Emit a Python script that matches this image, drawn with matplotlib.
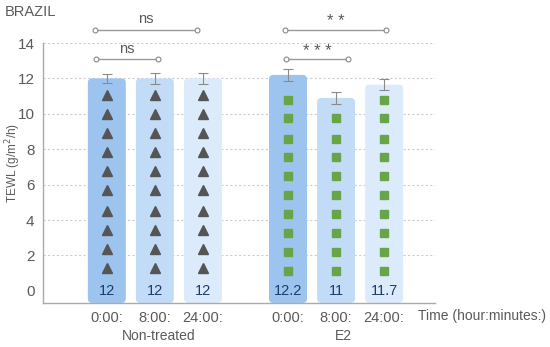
import matplotlib
matplotlib.use("Agg")
import matplotlib.pyplot as plt
from matplotlib.patches import FancyBboxPatch

plt.rcParams['font.family'] = ['Liberation Sans', 'DejaVu Sans']

# ---- data ----
tick_labels = ["0:00:", "8:00:", "24:00:", "0:00:", "8:00:", "24:00:"]
groups = ["Non-treated", "E2"]
values = [12.0, 12.0, 12.0, 12.2, 10.9, 11.65]
value_labels = ["12", "12", "12", "12.2", "11", "11.7"]
errors = [0.25, 0.33, 0.33, 0.33, 0.33, 0.33]
positions = [0, 1, 2, 3.77, 4.77, 5.77]
bar_colors = ["#9cc4ef", "#c2dcf8", "#dcebfc", "#9cc4ef", "#c2dcf8", "#dcebfc"]
tri_y = [1.3, 2.37, 3.44, 4.5, 5.7, 6.76, 7.83, 8.9, 9.97, 11.04]
sq_y = [1.13, 2.2, 3.27, 4.34, 5.4, 6.48, 7.55, 8.6, 9.75, 10.8]
yticks = [0, 2, 4, 6, 8, 10, 12, 14]
# significance brackets: (x1, x2, y, label)
brackets = [(-0.25, 1.875, 14.76, "ns"), (-0.23, 1.06, 13.07, "ns"),
            (3.71, 5.81, 14.76, "**"), (3.73, 5.02, 13.07, "***")]

TXT = "#5a5a5a"
fig = plt.figure(figsize=(5.5, 3.47), dpi=100)
ax = fig.add_axes([0.078, 0.127, 0.713, 0.749])

ymin = -0.68
ax.set_xlim(-1.33, 6.83)
ax.set_ylim(ymin, 14)

ax.hlines([t for t in yticks if t > 0], -1.33, 6.83, colors="#cccccc",
          linestyles=(0, (2, 2)), linewidth=0.8, zorder=1)
ax.set_yticks(yticks)
ax.set_yticklabels([str(t) for t in yticks])
ax.tick_params(axis='y', length=0, pad=6, labelsize=11, labelcolor=TXT)
ax.tick_params(axis='x', length=0, pad=6, labelsize=10.5, labelcolor=TXT)
ax.set_xticks(positions)
ax.set_xticklabels(tick_labels)

for s in ["top", "right"]:
    ax.spines[s].set_visible(False)
for s in ["left", "bottom"]:
    ax.spines[s].set_color("#aaaaaa")
    ax.spines[s].set_linewidth(1.0)
    ax.spines[s].set_zorder(6)

w = 0.79
for x, v, c in zip(positions, values, bar_colors):
    p = FancyBboxPatch((x - w / 2, ymin), w, v - ymin,
                       boxstyle="round,pad=0,rounding_size=0.09",
                       mutation_aspect=2.7, facecolor=c, edgecolor='none',
                       zorder=2)
    ax.add_patch(p)
ax.errorbar(positions, values, yerr=errors, fmt='none', ecolor="#8a8a8a",
            elinewidth=0.8, capsize=3.5, capthick=0.8, zorder=3)

for i, (x, v) in enumerate(zip(positions, values)):
    if i < 3:
        ys = [y for y in tri_y if y < v - 0.5]
        ax.plot([x] * len(ys), ys, linestyle='none', marker='^', ms=7,
                color="#555555", zorder=4)
    else:
        ys = [y for y in sq_y if y < v - 0.5]
        ax.plot([x] * len(ys), ys, linestyle='none', marker='s', ms=6,
                color="#67a548", zorder=4)
    ax.text(x, 0, value_labels[i], ha='center', va='center', fontsize=10.5,
            color="#1d3d66", zorder=5)

for x1, x2, y, lab in brackets:
    ax.plot([x1, x2], [y, y], color="#999999", linewidth=1.0, clip_on=False,
            marker='o', ms=3.5, mfc='white', mec="#888888", mew=0.8, zorder=5)
    if lab.startswith("*"):
        ax.text((x1 + x2) / 2, y + 0.05, " ".join(lab), ha='center',
                va='bottom', fontsize=12, color=TXT, clip_on=False)
    else:
        ax.text((x1 + x2) / 2, y + 0.2, lab, ha='center', va='bottom',
                fontsize=10.5, color=TXT, clip_on=False)

fig.text(13 / 550, 1 - 163 / 347, "TEWL (g/m$^2$/h)", rotation=90,
         ha='center', va='center', fontsize=8.5, color=TXT)

# group labels
fig.text(159 / 550, 1 - 336 / 347, groups[0], ha='center', va='center',
         fontsize=10, color=TXT)
fig.text(343 / 550, 1 - 336 / 347, groups[1], ha='center', va='center',
         fontsize=10, color=TXT)
fig.text(418 / 550, 1 - 316 / 347, "Time (hour:minutes:)", ha='left',
         va='center', fontsize=10, color=TXT)
fig.text(5 / 550, 1 - 12 / 347, "BRAZIL", ha='left', va='center',
         fontsize=10.5, color=TXT)

fig.savefig("out.png", dpi=100)
